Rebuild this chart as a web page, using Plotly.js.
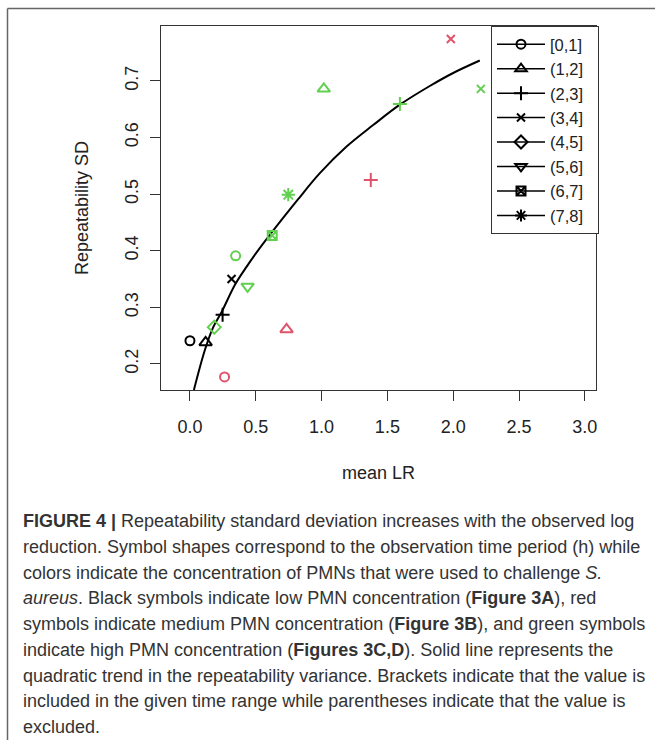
<!DOCTYPE html>
<html>
<head>
<meta charset="utf-8">
<script src="https://cdn.plot.ly/plotly-3.0.1.min.js"></script>
<style>
html,body{margin:0;padding:0;background:#fff;}
#chart{width:655px;height:740px;}
</style>
</head>
<body>
<div id="chart"></div>
<script>
// ---- data ----
const periods = ["[0,1]", "(1,2]", "(2,3]", "(3,4]", "(4,5]", "(5,6]", "(6,7]", "(7,8]"];

// low PMN concentration (black)
const lowX      = [0.000, 0.119, 0.248, 0.316];
const lowY      = [0.241, 0.238, 0.287, 0.350];
const lowPeriod = [0, 1, 2, 3];

// medium PMN concentration (red)
const medX      = [0.263, 0.734, 1.374, 1.982];
const medY      = [0.177, 0.261, 0.525, 0.774];
const medPeriod = [0, 1, 2, 3];

// high PMN concentration (green)
const highX      = [0.347, 1.017, 1.595, 2.210, 0.185, 0.438, 0.625, 0.747];
const highY      = [0.391, 0.686, 0.659, 0.686, 0.265, 0.337, 0.427, 0.499];
const highPeriod = [0, 1, 2, 3, 4, 5, 6, 7];

// quadratic trend line
const trendX = [0.030, 0.114, 0.177, 0.241, 0.342, 0.431, 0.519, 0.822, 0.987, 1.190, 1.392, 1.595, 1.822, 2.000, 2.202];
const trendY = [0.154, 0.225, 0.265, 0.292, 0.340, 0.372, 0.401, 0.491, 0.537, 0.584, 0.622, 0.658, 0.691, 0.714, 0.736];

const xTicks = [0, 0.5, 1, 1.5, 2, 2.5, 3];
const yTicks = [0.2, 0.3, 0.4, 0.5, 0.6, 0.7];

const captionLines = [
  "<b>FIGURE 4 |</b> Repeatability standard deviation increases with the observed log",
  "reduction. Symbol shapes correspond to the observation time period (h) while",
  "colors indicate the concentration of PMNs that were used to challenge <i>S.</i>",
  "<i>aureus</i>. Black symbols indicate low PMN concentration (<b>Figure 3A</b>), red",
  "symbols indicate medium PMN concentration (<b>Figure 3B</b>), and green symbols",
  "indicate high PMN concentration (<b>Figures 3C,D</b>). Solid line represents the",
  "quadratic trend in the repeatability variance. Brackets indicate that the value is",
  "included in the given time range while parentheses indicate that the value is",
  "excluded."
];

// ---- styles ----
const symbolStyle = [
  {symbol: "circle-open",        size: 9},
  {symbol: "triangle-up-open",   size: 11},
  {symbol: "cross-thin-open",    size: 10},
  {symbol: "x-thin-open",        size: 8},
  {symbol: "diamond-open",       size: 10},
  {symbol: "triangle-down-open", size: 11},
  {symbol: "square-x-open",      size: 9},
  {symbol: "asterisk-open",      size: 11}
];
const colLow = "#000000", colMed = "#DF536B", colHigh = "#61D04F";

function pointTrace(xs, ys, per, color, name) {
  return {
    type: "scatter", mode: "markers", name: name, showlegend: false,
    x: xs, y: ys,
    marker: {
      symbol: per.map(p => symbolStyle[p].symbol),
      size: per.map(p => symbolStyle[p].size),
      color: color, opacity: 1,
      line: {color: color, width: 2}
    },
    hoverinfo: "x+y"
  };
}

const traces = [
  {type: "scatter", mode: "lines", x: trendX, y: trendY, showlegend: false,
   line: {color: "#000", width: 2, shape: "spline", smoothing: 1}, hoverinfo: "skip"},
  pointTrace(lowX, lowY, lowPeriod, colLow, "low"),
  pointTrace(medX, medY, medPeriod, colMed, "medium"),
  pointTrace(highX, highY, highPeriod, colHigh, "high")
];
periods.forEach((p, i) => {
  traces.push({
    type: "scatter", mode: "lines+markers", name: p + "\u00a0\u00a0", x: [null], y: [null],
    line: {color: "#000", width: 1.5},
    marker: {symbol: symbolStyle[i].symbol, size: Math.min(symbolStyle[i].size, 10), color: "#000", opacity: 1,
             line: {color: "#000", width: 2}}
  });
});

// pixel -> paper helpers for the plot frame (plot area 161..596 x 26..390)
const L = 161, R = 596, T = 26, B = 390;
const px = v => (v - L) / (R - L);
const py = v => (B - v) / (B - T);

const annotations = captionLines.map((t, i) => ({
  xref: "paper", yref: "paper", x: px(21), y: py(521 + i * 25.75),
  xanchor: "left", yanchor: "middle", showarrow: false, align: "left",
  text: t, font: {family: "'Liberation Sans', Arial, sans-serif", size: 18, color: "#333"}
}));

const axisFont = {family: "'Liberation Sans', Arial, sans-serif", size: 18, color: "#222"};

const layout = {
  width: 655, height: 740,
  margin: {l: L, r: 655 - R, t: T, b: 740 - B, pad: 0},
  paper_bgcolor: "#fff", plot_bgcolor: "#fff",
  showlegend: true,
  xaxis: {
    range: [-0.22, 3.085], tickvals: xTicks, tickformat: ".1f",
    ticks: "outside", ticklen: 10, tickwidth: 1, tickcolor: "#333",
    showline: true, mirror: true, linecolor: "#333", linewidth: 1,
    showgrid: false, zeroline: false, tickfont: axisFont, ticklabelstandoff: 10,
    title: {text: "mean LR", font: axisFont, standoff: 30}, automargin: false
  },
  yaxis: {
    range: [0.154, 0.797], tickvals: yTicks, tickformat: ".1f", tickangle: -90,
    ticks: "outside", ticklen: 10, tickwidth: 1, tickcolor: "#333",
    showline: true, mirror: true, linecolor: "#333", linewidth: 1,
    showgrid: false, zeroline: false, tickfont: axisFont, ticklabelstandoff: 5,
    title: {text: "Repeatability SD", font: axisFont, standoff: 28}, automargin: false
  },
  legend: {
    x: px(491), y: 1, xanchor: "left", yanchor: "top",
    bgcolor: "#fff", bordercolor: "#333", borderwidth: 1,
    font: {family: "'Liberation Sans', Arial, sans-serif", size: 16.5, color: "#222"},
    itemwidth: 48, tracegroupgap: 0
  },
  annotations: annotations,
  shapes: [
    {type: "line", xref: "paper", yref: "paper", x0: px(7.5), x1: px(7.5), y0: py(740), y1: py(8.5),
     line: {color: "#666", width: 1.5}},
    {type: "line", xref: "paper", yref: "paper", x0: px(7.5), x1: px(655), y0: py(8.5), y1: py(8.5),
     line: {color: "#666", width: 1.5}}
  ]
};

Plotly.newPlot("chart", traces, layout, {displayModeBar: false, staticPlot: true});
</script>
</body>
</html>
